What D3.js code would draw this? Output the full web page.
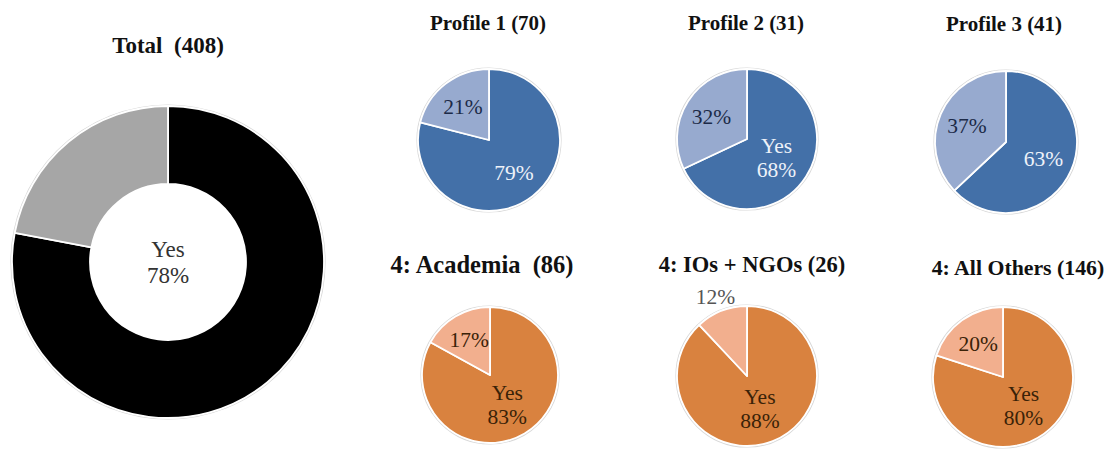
<!DOCTYPE html>
<html>
<head>
<meta charset="utf-8">
<script src="https://cdn.jsdelivr.net/npm/d3@7"></script>
<style>
  body { margin: 0; background: #fff; }
  svg { display: block; }
</style>
</head>
<body>
<svg id="chart" width="1104" height="451"></svg>
<script>
// data: share of "Yes" answers per group (rest is "No")
var groups = ["Total", "Profile 1", "Profile 2", "Profile 3", "4: Academia", "4: IOs + NGOs", "4: All Others"];
var counts = [408, 70, 31, 41, 86, 26, 146];
var yesPct = [78, 79, 68, 63, 83, 88, 80];
var noPct  = [22, 21, 32, 37, 17, 12, 20];
var yesWord = [true, false, true, false, true, true, true];

// layout of each small chart
var layout = [
  {cx: 168, cy: 262, r: 156, inner: 78, titleX: 168, titleY: 53, titleSize: 23, gap: "\u2002"},
  {cx: 489, cy: 140, r: 71, inner: 0, titleX: 488, titleY: 30, titleSize: 21, gap: " "},
  {cx: 747, cy: 139, r: 70, inner: 0, titleX: 746, titleY: 30, titleSize: 21, gap: " "},
  {cx: 1006, cy: 142, r: 71, inner: 0, titleX: 1004, titleY: 31, titleSize: 21, gap: " "},
  {cx: 490, cy: 375, r: 68, inner: 0, titleX: 482, titleY: 273, titleSize: 24.5, gap: "\u2002"},
  {cx: 747, cy: 376, r: 70, inner: 0, titleX: 752, titleY: 272, titleSize: 22.5, gap: " "},
  {cx: 1003, cy: 377, r: 70, inner: 0, titleX: 1018, titleY: 275, titleSize: 21.8, gap: " "}
];

var palettes = [
  {yes: "#000000", no: "#a6a6a6", yesText: "#333333", noText: null},
  {yes: "#4370a8", no: "#97aacf", yesText: "#eef2f9", noText: "#1c2a48"},
  {yes: "#4370a8", no: "#97aacf", yesText: "#eef2f9", noText: "#1c2a48"},
  {yes: "#4370a8", no: "#97aacf", yesText: "#eef2f9", noText: "#1c2a48"},
  {yes: "#d9823f", no: "#f2af8e", yesText: "#3a2208", noText: "#3a2208"},
  {yes: "#d9823f", no: "#f2af8e", yesText: "#3a2208", noText: "#555555"},
  {yes: "#d9823f", no: "#f2af8e", yesText: "#3a2208", noText: "#3a2208"}
];

var svg = d3.select("#chart");
var font = "'Liberation Serif', 'Times New Roman', serif";

var pie = d3.pie().sort(null).value(function(d) { return d.value; });

groups.forEach(function(name, i) {
  var L = layout[i], P = palettes[i];
  var data = [
    {key: "yes", value: yesPct[i]},
    {key: "no", value: noPct[i]}
  ];
  var arcs = pie(data);
  var arc = d3.arc().innerRadius(L.inner).outerRadius(L.r);

  var g = svg.append("g").attr("transform", "translate(" + L.cx + "," + L.cy + ")");

  // faint rim
  g.append("circle").attr("r", L.r + 1).attr("fill", "none")
    .attr("stroke", "#d8d8d8").attr("stroke-width", 1.2);

  g.selectAll("path.slice").data(arcs).enter().append("path")
    .attr("class", "slice")
    .attr("d", arc)
    .attr("fill", function(d) { return P[d.data.key]; })
    .attr("stroke", "#fff")
    .attr("stroke-width", 1.8)
    .attr("stroke-linejoin", "round");

  svg.append("text")
    .attr("x", L.titleX).attr("y", L.titleY)
    .attr("text-anchor", "middle")
    .style("font-family", font)
    .style("font-weight", "bold")
    .style("font-size", L.titleSize + "px")
    .style("fill", "#111")
    .text(name + L.gap + "(" + counts[i] + ")");

  arcs.forEach(function(d) {
    var pos, lines, col;
    var share = d.data.value / 100;
    if (d.data.key === "yes") {
      lines = yesWord[i] ? ["Yes", d.data.value + "%"] : [d.data.value + "%"];
      col = P.yesText;
      if (L.inner > 0) {
        pos = [0, 0];
      } else {
        pos = d3.arc().innerRadius(0).outerRadius(L.r * (yesWord[i] ? 1.0 : 1.15)).centroid(d);
      }
    } else {
      if (!P.noText) return; // donut shows only the Yes share
      lines = [d.data.value + "%"];
      col = P.noText;
      var f = share < 0.15 ? 2.45 : 1.2;
      pos = d3.arc().innerRadius(0).outerRadius(L.r * f).centroid(d);
    }
    var t = g.append("text")
      .attr("text-anchor", "middle")
      .style("font-family", font)
      .style("font-size", (L.inner > 0 ? 23 : 21.5) + "px")
      .style("fill", col);
    var lh = L.inner > 0 ? 26 : 24;
    lines.forEach(function(s, k) {
      t.append("tspan")
        .attr("x", pos[0])
        .attr("y", pos[1] + (k - (lines.length - 1) / 2) * lh)
        .attr("dy", "0.35em")
        .text(s);
    });
  });
});
</script>
</body>
</html>
